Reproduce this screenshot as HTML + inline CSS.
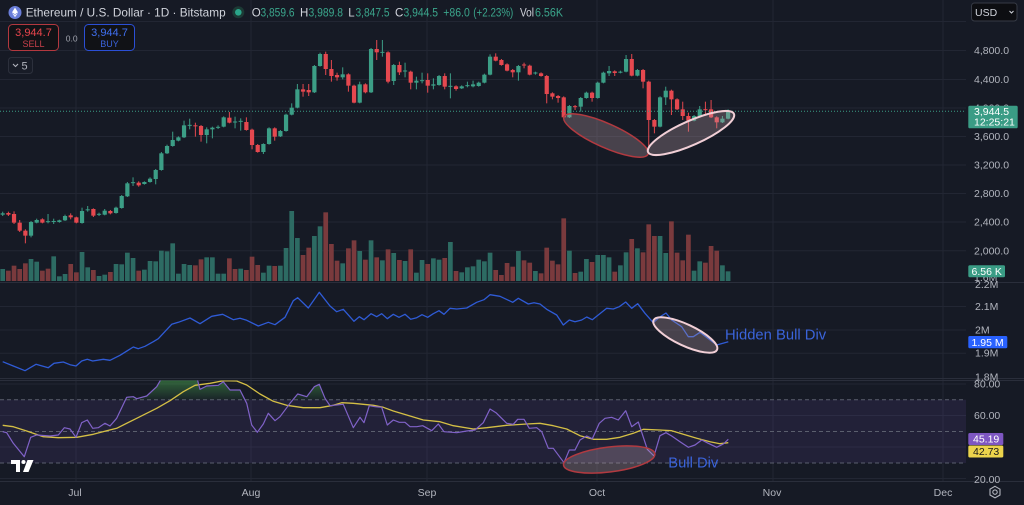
<!DOCTYPE html>
<html><head><meta charset="utf-8"><style>
html,body{margin:0;padding:0;background:#161a25;width:1024px;height:505px;overflow:hidden}
svg{display:block}
text{font-family:"Liberation Sans",Arial,sans-serif}
</style></head><body>
<svg id="s" width="1024" height="505" viewBox="0 0 1024 505" xmlns="http://www.w3.org/2000/svg">
<defs>
 <clipPath id="cp"><rect x="0" y="0" width="966" height="282"/></clipPath>
 <clipPath id="co"><rect x="0" y="283" width="966" height="96"/></clipPath>
 <clipPath id="cr"><rect x="0" y="380.5" width="966" height="100"/></clipPath>
 <clipPath id="cg"><rect x="0" y="380.5" width="966" height="19.2"/></clipPath>
 <linearGradient id="gg" x1="0" y1="380" x2="0" y2="400" gradientUnits="userSpaceOnUse">
  <stop offset="0" stop-color="#4caf50" stop-opacity="0.5"/>
  <stop offset="1" stop-color="#4caf50" stop-opacity="0.06"/>
 </linearGradient>
</defs>
<rect width="1024" height="505" fill="#161a25"/>

<!-- grid -->
<g stroke="#222633" stroke-width="1">
 <line x1="76" y1="0" x2="76" y2="481"/>
 <line x1="251" y1="0" x2="251" y2="481"/>
 <line x1="427" y1="0" x2="427" y2="481"/>
 <line x1="597" y1="0" x2="597" y2="481"/>
 <line x1="773" y1="0" x2="773" y2="481"/>
 <line x1="943" y1="0" x2="943" y2="481"/>
 <line x1="0" y1="21.5" x2="966" y2="21.5"/>
 <line x1="0" y1="50.5" x2="966" y2="50.5"/>
 <line x1="0" y1="79.5" x2="966" y2="79.5"/>
 <line x1="0" y1="108" x2="966" y2="108"/>
 <line x1="0" y1="136.5" x2="966" y2="136.5"/>
 <line x1="0" y1="165" x2="966" y2="165"/>
 <line x1="0" y1="193.5" x2="966" y2="193.5"/>
 <line x1="0" y1="222" x2="966" y2="222"/>
 <line x1="0" y1="250.7" x2="966" y2="250.7"/>
 <line x1="0" y1="306.5" x2="966" y2="306.5"/>
 <line x1="0" y1="330" x2="966" y2="330"/>
 <line x1="0" y1="353.3" x2="966" y2="353.3"/>
 <line x1="0" y1="384" x2="966" y2="384"/>
 <line x1="0" y1="415.5" x2="966" y2="415.5"/>
 <line x1="0" y1="447" x2="966" y2="447"/>
 <line x1="0" y1="478.5" x2="966" y2="478.5"/>
</g>
<!-- pane separators -->
<g stroke="#2a2e3b" stroke-width="1">
 <line x1="0" y1="282.5" x2="1024" y2="282.5"/>
 <line x1="0" y1="378.5" x2="1024" y2="378.5"/>
 <line x1="0" y1="380.5" x2="1024" y2="380.5"/>
 <line x1="0" y1="481.5" x2="1024" y2="481.5"/>
</g>

<!-- RSI band -->
<rect x="0" y="399.7" width="966" height="63.3" fill="#7e57c2" fill-opacity="0.12"/>
<g stroke="#5b5f6e" stroke-width="1" stroke-dasharray="4 3">
 <line x1="0" y1="399.7" x2="966" y2="399.7"/>
 <line x1="0" y1="431.5" x2="966" y2="431.5"/>
 <line x1="0" y1="463" x2="966" y2="463"/>
</g>

<g id="vol" clip-path="url(#cp)"></g>
<g id="cdl" clip-path="url(#cp)"></g>

<!-- last price line -->
<line x1="0" y1="111.3" x2="966" y2="111.3" stroke="#3a9c85" stroke-width="1" stroke-dasharray="1 2"/>

<!-- price ellipses -->
<ellipse cx="606" cy="135.5" rx="46" ry="12" transform="rotate(24 606 135.5)" fill="rgb(190,160,170)" fill-opacity="0.3" stroke="#b13a40" stroke-width="1.5"/>
<ellipse cx="691" cy="133" rx="47" ry="12" transform="rotate(-24 691 133)" fill="rgb(190,160,170)" fill-opacity="0.3" stroke="#f1cfd6" stroke-width="2"/>

<!-- OBV -->
<g clip-path="url(#co)">
<polyline fill="none" stroke="#2f5bd6" stroke-width="1.3" stroke-linejoin="round" points="2.7,361.7 13.3,366 25,370.7 36,364.3 48.3,367.7 54,363.3 63.3,362 70,364.7 76,366 81.7,361 87.3,359.3 92.7,361 103.3,359.3 110,360.3 120,355.3 133.3,347 138.3,348.7 145,346.3 153.3,341.7 158.3,338.7 171.7,324.3 178.3,322.3 190,318 200,323.7 211.7,316.3 222.7,314.3 233.3,319.7 240,318.3 246.7,320.3 258.3,326 268.3,322.3 275,324.7 285,317.3 293.3,300.7 297.7,297.7 308.3,308 319.3,292.3 330,306 336.7,311.7 343.3,309.3 354,321.3 359.3,316.7 364,319.7 371,313.7 376.7,316.7 381.7,313.7 387.3,318.7 393.3,314.3 399,317.3 405,314.3 410.7,319.3 416.7,317.7 422,314.7 427.7,317.3 433.3,313.7 439,310.7 444,314.3 450,308.3 456.7,309 466.7,308 476.7,302.3 484,299.7 490,294.7 500,296.3 512.7,302.3 518.3,298.3 528.3,304 534,302.7 540,304 546.7,309.3 556.7,315 563.3,325 569.3,320 575,321.7 581.7,320 586.7,317 592.3,319.7 606.7,308.3 613.3,309 619.3,306.7 625.7,302 631.7,308.3 637.7,303.7 645,313.3 653.3,322.7 659.3,317.3 666,313 671.7,320 681.7,326.7 688.3,336.7 693.3,336.7 700,332.3 706.7,337.3 716.7,345 728.3,341.7"/>
<ellipse cx="685.3" cy="335" rx="35" ry="10.7" transform="rotate(25 685.3 335)" fill="rgb(190,160,170)" fill-opacity="0.3" stroke="#f1cfd6" stroke-width="2"/>
</g>
<text x="725" y="339.3" font-size="14.8" fill="#3b64db">Hidden Bull Div</text>

<!-- RSI -->
<g clip-path="url(#cr)">
<g clip-path="url(#cg)">
<polygon fill="url(#gg)" points="2.7,431.7 6.7,432.7 13.3,443.3 24.3,456.7 30.7,437.3 36.7,435 50,436 58.3,435 64.3,427.7 70,429 76,437.3 81.7,422.7 87.3,420 92.7,428.3 98.3,427.7 105,423.3 110,426 116.7,418.3 126.7,397.3 133.3,396.7 136.7,398.7 146.7,396 156.7,386.7 162.3,377 196.7,377 200,389.3 206.7,386 218.3,385.3 223.3,381.7 230,390 240,390 246.7,403.3 251.7,425 257.3,432.3 263.3,424 268.3,413.3 275,420.7 280,416.7 290,403.3 297.7,394 306.7,396.7 314.3,386.7 319.3,384.3 325,398.3 330,405.7 343.3,404.3 353.3,427.7 728.3,439.3 728.3,399.7 2.7,399.7"/>
</g>
<polyline fill="none" stroke="#d4bf45" stroke-width="1.3" stroke-linejoin="round" points="2.7,425.3 13.3,426.7 26.7,431 43.3,436.7 58.3,437.7 76.7,437.3 93.3,434.3 106.7,430.7 116.7,428.3 136.7,418.3 156.7,408.3 170,400.7 183.3,391.7 195,385.3 210,383.3 223.3,380.7 236.7,381 246.7,385 260,394 273.3,401.3 286.7,405.3 303.3,407.7 320,407.7 333.3,405.3 341.7,402.7 353.3,403.3 373.3,405.3 383.3,407.3 393.3,411 406.7,415 423.3,420 440,421.7 453.3,425.7 473.3,429 486.7,427.7 506.7,425.3 526.7,424 540,423.3 553.3,425.7 566.7,429 580,435.7 593.3,439.3 606.7,439.3 620,437.3 633.3,433.3 643.3,429.3 660,430 671.7,430.7 683.3,434.3 696.7,438.3 710,441.7 720,443.7 728.3,442.7"/>
<polyline fill="none" stroke="#8062c8" stroke-width="1.2" stroke-linejoin="round" points="2.7,431.7 6.7,432.7 13.3,443.3 24.3,456.7 30.7,437.3 36.7,435 50,436 58.3,435 64.3,427.7 70,429 76,437.3 81.7,422.7 87.3,420 92.7,428.3 98.3,427.7 105,423.3 110,426 116.7,418.3 126.7,397.3 133.3,396.7 136.7,398.7 146.7,396 156.7,386.7 162.3,377 196.7,377 200,389.3 206.7,386 218.3,385.3 223.3,381.7 230,390 240,390 246.7,403.3 251.7,425 257.3,432.3 263.3,424 268.3,413.3 275,420.7 280,416.7 290,403.3 297.7,394 306.7,396.7 314.3,386.7 319.3,384.3 325,398.3 330,405.7 343.3,404.3 353.3,427.7 360,417.3 364,422.7 369.3,405.7 375,406.7 381.7,407.3 387.3,425 393.3,420 399.3,422.3 405,422.3 410,426.7 416.7,426.7 422.7,425.7 431.7,430.7 438.3,424 444,431.7 456.7,432.7 466.7,431 475,430 483.3,422.7 490,409 496,412.7 506.7,423.3 513.3,424.3 517.7,419.3 524,419.3 529.3,428.3 536.7,427.7 541.7,431.7 548.3,448.3 553.3,448.3 564,462.7 569.3,450 575,450 580,440 586.7,436 592.3,438.7 599.3,423.3 605,418.3 611.7,417.3 618.3,420 625.7,410.7 631.7,426.7 638.3,422 647.3,449.3 654,456 660,435.7 666,432.7 671.7,436 680,441.7 688.3,447.3 695,445 701.7,440 708.3,443.3 716.7,447.3 723.3,444 728.3,439.3"/>
<ellipse cx="609.2" cy="459.5" rx="46" ry="12.5" transform="rotate(-7 609.2 459.5)" fill="rgb(190,160,170)" fill-opacity="0.3" stroke="#b13a40" stroke-width="1.5"/>
</g>
<text x="668.3" y="467.3" font-size="14.75" fill="#3b64db">Bull Div</text>

<!-- TV logo -->
<g fill="#ffffff">
 <path d="M11 460 H20 V472 H16 V464 H11 Z"/>
 <circle cx="23.5" cy="462" r="2"/>
 <path d="M27.5 460 H33.5 L28.5 472 H23 Z"/>
</g>

<!-- header -->
<circle cx="15" cy="12.5" r="6.5" fill="#6a7ed9"/>
<path d="M15 7.6 L18 12.4 L15 14.2 L12 12.4 Z" fill="#fff"/>
<path d="M15 14.9 L18 13.1 L15 17.3 L12 13.1 Z" fill="#fff" fill-opacity="0.85"/>
<text x="25.7" y="16.7" font-size="11.8" fill="#d1d4dc">Ethereum / U.S. Dollar · 1D · Bitstamp</text>
<circle cx="238.3" cy="12.3" r="6" fill="#1c3a35"/>
<circle cx="238.3" cy="12.3" r="3.3" fill="#2aa58a"/>
<g font-size="11.5">
 <text x="251.7" y="16.5" fill="#d1d4dc">O</text>
 <text x="260.5" y="16.5" fill="#3ba68c" textLength="34" lengthAdjust="spacingAndGlyphs">3,859.6</text>
 <text x="300" y="16.5" fill="#d1d4dc">H</text>
 <text x="308.5" y="16.5" fill="#3ba68c" textLength="34.5" lengthAdjust="spacingAndGlyphs">3,989.8</text>
 <text x="348.3" y="16.5" fill="#d1d4dc">L</text>
 <text x="355.5" y="16.5" fill="#3ba68c" textLength="34" lengthAdjust="spacingAndGlyphs">3,847.5</text>
 <text x="395" y="16.5" fill="#d1d4dc">C</text>
 <text x="403.5" y="16.5" fill="#3ba68c" textLength="34.5" lengthAdjust="spacingAndGlyphs">3,944.5</text>
 <text x="443.3" y="16.5" fill="#3ba68c" textLength="26.5" lengthAdjust="spacingAndGlyphs">+86.0</text>
 <text x="473.3" y="16.5" fill="#3ba68c" textLength="40" lengthAdjust="spacingAndGlyphs">(+2.23%)</text>
 <text x="520" y="16.5" fill="#d1d4dc" textLength="14" lengthAdjust="spacingAndGlyphs">Vol</text>
 <text x="535" y="16.5" fill="#3ba68c" textLength="28" lengthAdjust="spacingAndGlyphs">6.56K</text>
</g>

<!-- sell / buy -->
<rect x="8.5" y="24.5" width="50" height="26" rx="4" fill="#111216" stroke="#b3383f" stroke-width="1"/>
<text x="33.5" y="36.2" font-size="11" fill="#e9454c" text-anchor="middle">3,944.7</text>
<text x="33.5" y="47" font-size="9" fill="#c8404a" text-anchor="middle">SELL</text>
<text x="71.7" y="41.5" font-size="8.5" fill="#a0a3ad" text-anchor="middle">0.0</text>
<rect x="84.5" y="24.5" width="50" height="26" rx="4" fill="#111216" stroke="#2b4fd6" stroke-width="1"/>
<text x="109.5" y="36.2" font-size="11" fill="#4070f0" text-anchor="middle">3,944.7</text>
<text x="109.5" y="47" font-size="9" fill="#3b63dc" text-anchor="middle">BUY</text>
<rect x="8.5" y="57.5" width="24" height="16" rx="3" fill="#181c27" stroke="#2c303c" stroke-width="1"/>
<path d="M13 64 L15.5 66.5 L18 64" fill="none" stroke="#b2b5be" stroke-width="1.1"/>
<text x="21.5" y="69.5" font-size="11" fill="#b2b5be">5</text>

<!-- USD -->
<rect x="971.5" y="3" width="45.5" height="18" rx="3" fill="#0d0e12" stroke="#363a45" stroke-width="1"/>
<text x="975" y="16" font-size="10.5" fill="#d1d4dc">USD</text>
<path d="M1009.5 11 L1011.5 13 L1013.5 11" fill="none" stroke="#d1d4dc" stroke-width="1"/>

<!-- price axis -->
<g font-size="10.5" fill="#b2b5be">
 <text x="974" y="53.8">4,800.0</text>
 <text x="974" y="82.8">4,400.0</text>
 <text x="974" y="111.5">4,000.0</text>
 <text x="974" y="139.8">3,600.0</text>
 <text x="974" y="168.4">3,200.0</text>
 <text x="974" y="197">2,800.0</text>
 <text x="974" y="225.7">2,400.0</text>
 <text x="974" y="254.3">2,000.0</text>
 <text x="974" y="281">1.6M</text>
 <text x="975" y="288">2.2M</text>
 <text x="975" y="309.8">2.1M</text>
 <text x="975" y="333.6">2M</text>
 <text x="975" y="356.5">1.9M</text>
 <text x="975" y="380.3">1.8M</text>
 <text x="974" y="387.6">80.00</text>
 <text x="974" y="419">60.00</text>
 <text x="974" y="482.8">20.00</text>
</g>
<rect x="968.3" y="105.7" width="49.4" height="22.6" rx="1.5" fill="#3a9c85"/>
<text x="974" y="115" font-size="10.5" fill="#ffffff">3,944.5</text>
<text x="974" y="125.5" font-size="10.5" fill="#ffffff">12:25:21</text>
<rect x="968.3" y="265.3" width="36.7" height="12" rx="1.5" fill="#3a9c85"/>
<text x="971.5" y="275" font-size="10.5" fill="#ffffff">6.56 K</text>
<rect x="968.3" y="336" width="39" height="12.3" rx="1.5" fill="#2962ff"/>
<text x="971.5" y="345.8" font-size="10.5" fill="#ffffff">1.95 M</text>
<rect x="968.3" y="433" width="35" height="12" rx="1.5" fill="#7e57c2"/>
<text x="973" y="442.7" font-size="10.5" fill="#ffffff">45.19</text>
<rect x="968.3" y="445.5" width="35" height="12" rx="1.5" fill="#ecd44c"/>
<text x="973" y="455.2" font-size="10.5" fill="#1a1a1a">42.73</text>

<!-- time axis -->
<g font-size="10.5" fill="#b2b5be" text-anchor="middle">
 <text x="75" y="496">Jul</text>
 <text x="251" y="496">Aug</text>
 <text x="427" y="496">Sep</text>
 <text x="597" y="496">Oct</text>
 <text x="772" y="496">Nov</text>
 <text x="943" y="496">Dec</text>
</g>
<polygon points="995,486.3 1000,489.2 1000,495 995,497.9 990,495 990,489.2" fill="none" stroke="#b2b5be" stroke-width="1.1"/>
<circle cx="995" cy="492.1" r="2.2" fill="none" stroke="#b2b5be" stroke-width="1.1"/>
</svg>
<script>
(function(){
var NS="http://www.w3.org/2000/svg";
var C=[["g",520,524,515,528],["r",519,524,515,528],["r",522,548,514,552],["r",548,572,540,576],["r",572,587,568,610],["g",546,587,543,592],["g",540,548,536,550],["r",538,548,535,550],["g",544,546,522,550],["g",543,546,536,552],["g",541,546,539,548],["g",528,541,524,543],["r",526,532,520,538],["r",532,548,530,550],["g",513,549,503,551],["g",508,511,498,515],["r",507,527,505,531],["g",522,524,518,528],["g",512,524,507,526],["r",513,520,510,523],["g",503,519,500,521],["g",468,504,465,506],["g",430,469,426,471],["g",427,429,412,438],["r",428,436,424,440],["g",426,432,424,434],["g",416,426,412,428],["g",390,417,387,433],["g",340,390,336,392],["g",318,340,314,342],["g",300,318,275,320],["g",292,302,289,304],["g",256,292,242,294],["g",255,257,236,268],["r",256,259,248,290],["r",258,285,255,305],["g",268,285,262,310],["g",263,268,260,295],["g",261,263,256,267],["g",232,260,229,262],["r",233,248,216,250],["g",245,247,230,265],["g",243,245,235,272],["r",246,270,232,272],["r",269,315,266,328],["r",315,336,312,338],["g",312,336,310,342],["g",265,312,262,314],["r",265,290,262,302],["g",273,289,270,291],["g",224,273,221,275],["g",203,224,190,226],["g",148,203,132,205],["r",148,155,132,170],["r",150,157,132,168],["g",78,157,75,159],["g",42,78,38,80],["r",42,87,35,105],
["r",87,108,60,125],["r",105,112,98,122],["g",103,112,82,118],["r",103,137,100,155],["r",137,188,134,190],["g",133,188,125,190],["r",133,157,130,160],["g",27,157,24,159],["r",27,37,0,60],["g",36,38,0,50],["r",37,125,34,130],["g",75,123,72,135],["r",75,97,65,105],["g",92,94,68,112],["r",95,128,92,148],["g",122,128,110,148],["g",121,123,98,130],["r",120,137,100,158],["g",133,137,115,148],["g",108,135,105,137],["r",108,140,100,148],["g",138,140,100,175],["r",139,147,136,152],["g",139,145,136,147],["g",136,138,125,142],["g",133,139,122,142],["g",128,138,125,140],["g",104,128,101,130],["g",50,104,43,106],["r",50,62,40,64],["r",60,75,57,77],["r",73,92,70,94],["r",90,97,87,112],["g",78,97,75,122],["r",74,76,68,85],["r",77,104,74,106],["g",98,100,95,104],["r",100,108,97,110],["r",108,162,105,190],["r",160,170,157,178],["r",168,174,165,188],["r",172,232,169,234],["g",198,232,195,234],["r",199,201,195,210],["g",174,200,171,215],["g",158,174,155,176],["r",158,174,155,185],["g",128,174,125,176],["g",98,128,95,130],["g",93,100,78,108],["r",94,99,91,108],["g",95,98,92,100],["g",57,95,45,97],["r",57,107,42,109],["g",90,107,87,109],["r",90,125,87,145],["r",125,240,122,320],
["r",240,260,237,280],["g",172,260,169,262],["g",152,172,140,195],["r",152,178,149,225],["r",178,208,175,210],["r",208,228,185,240],["r",228,242,218,275],["g",228,242,225,244],["g",208,228,198,230],["r",208,210,185,225],["r",208,232,180,234],["r",232,247,229,265],["g",236,247,228,249],["g",216,236,208,238]];
var V="g687,r692,r677,r687,r670,g657,g665,r692,r686,g649,g709,g702,r672,r697,g636,g682,r690,g708,g704,r696,g672,g673,g638,g654,r692,g689,g663,g664,g632,g634,g610,g701,g672,g675,r676,r658,g652,g652,g701,g701,r655,r687,g686,r690,r650,r675,g698,g677,r678,g677,g624,g513,g594,r645,r623,g588,g559,r517,r612,r662,g670,r625,r601,g633,r659,g601,r652,g661,r628,g639,r660,g663,r628,g698,g660,r672,g655,g659,r654,g606,r693,g697,g682,g679,g659,g664,g638,r690,r705,r669,r680,g633,r661,r668,g693,r700,r623,r662,r673,r535,g632,r699,g695,g657,r666,g645,g645,g652,r695,g676,g637,r597,g625,r637,r553,r588,g588,g639,r544,r638,r661,r584,g692,g664,r668,r618,r632,g676,g694".split(",");
var cg=document.getElementById("cdl"), vg=document.getElementById("vol");
function el(p,t,a){var e=document.createElementNS(NS,t);for(var k in a)e.setAttribute(k,a[k]);p.appendChild(e);return e;}
function Y(z){return z/3+40;}
var sp=5.667, x0=2.7;
for(var i=0;i<V.length;i++){
  var c=V[i][0], v=+V[i].slice(1), x=x0+i*sp, y=Y(v);
  el(vg,"rect",{x:(x-2.35).toFixed(2),y:y.toFixed(2),width:4.7,height:(281-y).toFixed(2),fill:c=="g"?"#2d6b63":"#7a3a3d"});
}
for(var j=0;j<C.length;j++){
  var d=C[j], x=x0+j*sp, col=d[0]=="g"?"#3c9e86":"#e5484f";
  var t=Y(d[1]), b=Y(d[2]), wt=Y(d[3]), wb=Y(d[4]);
  if(b-t<1){var m=(t+b)/2;t=m-0.5;b=m+0.5;}
  el(cg,"line",{x1:x.toFixed(2),x2:x.toFixed(2),y1:wt.toFixed(2),y2:wb.toFixed(2),stroke:col,"stroke-width":1});
  el(cg,"rect",{x:(x-2.1).toFixed(2),y:t.toFixed(2),width:4.2,height:(b-t).toFixed(2),fill:col});
}
})();
</script>
</body></html>
